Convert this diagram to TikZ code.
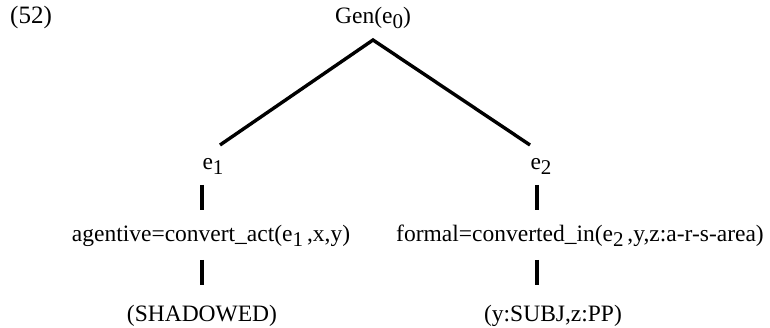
\documentclass[tikz,border=0pt]{standalone}
\usepackage{fontspec}
\setmainfont{Liberation Serif}
\newcommand\sbs[1]{\raisebox{-5pt}{\fontsize{21}{24}\selectfont #1}}
\begin{document}
\begin{tikzpicture}[x=1pt,y=-1pt,
  lbl/.style={anchor=base,inner sep=0pt,font=\fontsize{23.5}{28}\selectfont},
  edge/.style={line width=3.4pt},
  stem/.style={line width=3.6pt}]
\useasboundingbox (0,0) rectangle (770,328);
\node[lbl,anchor=base west,font=\fontsize{25}{28}\selectfont] (num) at (10,24) {(52)};
\node[lbl] (gen) at (373,24) {Gen(e\sbs{0})};
\coordinate (top) at (373,40);
\coordinate (l1) at (220,145);
\coordinate (r1) at (530,145);
\draw[edge,line join=miter] (l1) -- (top) -- (r1);
\node[lbl] (e1) at (213,170) {e\sbs{1}};
\node[lbl] (e2) at (541,170) {e\sbs{2}};
\node[lbl] (ag) at (211,242) {agentive=convert\_act(e\sbs{1}\,,x,y)};
\node[lbl] (fo) at (580,242) {formal=converted\_in(e\sbs{2}\,,y,z:a-r-s-area)};
\node[lbl] (sh) at (202,321) {(SHADOWED)};
\node[lbl] (sp) at (553,321) {(y:SUBJ,z:PP)};
\coordinate (a1) at (202,185); \coordinate (a2) at (202,210);
\coordinate (a3) at (202,260); \coordinate (a4) at (202,285);
\coordinate (b1) at (537,185); \coordinate (b2) at (537,210);
\coordinate (b3) at (537,260); \coordinate (b4) at (537,285);
\draw[stem] (a1) -- (a2);
\draw[stem] (a3) -- (a4);
\draw[stem] (b1) -- (b2);
\draw[stem] (b3) -- (b4);
\end{tikzpicture}
\end{document}
